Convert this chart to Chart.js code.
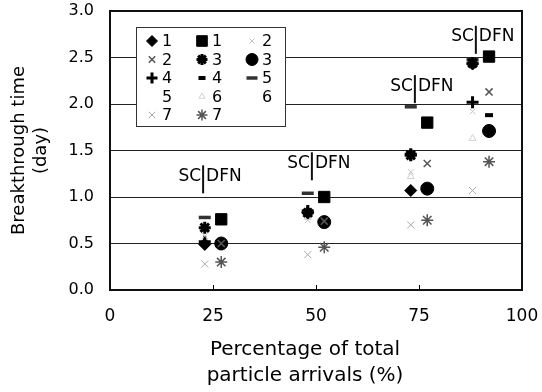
<!DOCTYPE html>
<html>
<head>
<meta charset="utf-8">
<script src="https://cdn.jsdelivr.net/npm/chart.js@4.4.0/dist/chart.umd.min.js"></script>
<style>
  html, body { margin: 0; padding: 0; background: #fff; }
  #wrap { width: 542px; height: 392px; }
</style>
</head>
<body>
<div id="wrap"><canvas id="chart" width="542" height="392"></canvas></div>
<script>
// x position (%) of the SC and DFN columns in each of the four groups
const scX = [23, 48, 73, 88];
const dfnX = [27, 52, 77, 92];

// breakthrough time (day), one value per group
const sc1 = [0.49, 0.83, 1.07, 2.43];
const dfn1 = [0.76, 1.00, 1.80, 2.51];
const sc2 = [0.58, 0.75, 1.27, 1.92];
const dfn2 = [0.50, 0.74, 1.36, 2.13];
const sc3 = [0.67, 0.83, 1.45, 2.44];
const dfn3 = [0.50, 0.73, 1.09, 1.71];
const sc4 = [0.52, 0.85, 1.46, 2.02];
const dfn4 = [0.77, 1.01, 1.81, 1.88];
const sc5 = [0.78, 1.04, 1.97, 2.48];
const dfn5 = [0.76, 1.00, 1.80, 2.50];
const sc6 = [0.55, 0.78, 1.22, 1.63];
const dfn6 = [0.76, 1.00, 1.80, 2.50];
const sc7 = [0.28, 0.38, 0.70, 1.07];
const dfn7 = [0.30, 0.46, 0.75, 1.38];

const seriesValues = [sc1, dfn1, sc2, dfn2, sc3, dfn3, sc4, dfn4, sc5, dfn5, sc6, dfn6, sc7, dfn7];
const seriesLabels = ['1', '1', '2', '2', '3', '3', '4', '4', '5', '5', '6', '6', '7', '7'];

const xTicks = [0, 25, 50, 75, 100];
const yTicks = [0, 0.5, 1.0, 1.5, 2.0, 2.5, 3.0];

// "SC|DFN" divider marks above each group (data units)
const dividerX = [22.6, 49.0, 74.0, 88.8];
const dividerY = [1.19, 1.33, 2.16, 2.69];

const FONT = 'DejaVu Sans';

// marker look for each series, same order as seriesValues
const markerStyles = [
  { pointStyle: 'rectRot', radius: 6, bg: '#000', border: '#000', bw: 1 },
  { pointStyle: 'rect', radius: 8, bg: '#000', border: '#000', bw: 1 },
  { pointStyle: 'crossRot', radius: 4, bg: 'transparent', border: '#c4c4c4', bw: 1 },
  { pointStyle: 'crossRot', radius: 5, bg: 'transparent', border: '#555', bw: 1.5 },
  { pointStyle: 'star', radius: 6, bg: 'transparent', border: '#000', bw: 3 },
  { pointStyle: 'circle', radius: 6.5, bg: '#000', border: '#000', bw: 1 },
  { pointStyle: 'cross', radius: 6, bg: 'transparent', border: '#000', bw: 3 },
  { pointStyle: 'line', radius: 4, bg: 'transparent', border: '#000', bw: 4 },
  { pointStyle: 'line', radius: 6, bg: 'transparent', border: '#333', bw: 3.5 },
  { pointStyle: 'circle', radius: 5, bg: 'transparent', border: 'transparent', bw: 0 },
  { pointStyle: 'triangle', radius: 4, bg: 'transparent', border: '#cfcfcf', bw: 1 },
  { pointStyle: 'circle', radius: 5, bg: 'transparent', border: 'transparent', bw: 0 },
  { pointStyle: 'crossRot', radius: 5, bg: 'transparent', border: '#a8a8a8', bw: 1 },
  { pointStyle: 'star', radius: 6, bg: 'transparent', border: '#555', bw: 1.5 }
];

const datasets = seriesValues.map((vals, i) => {
  const xs = i % 2 === 0 ? scX : dfnX;
  const st = markerStyles[i];
  return {
    label: seriesLabels[i],
    data: vals.map((v, j) => ({ x: xs[j], y: v })),
    pointStyle: st.pointStyle,
    pointRadius: st.radius,
    pointBackgroundColor: st.bg,
    pointBorderColor: st.border,
    pointBorderWidth: st.bw,
    showLine: false
  };
});

// frame, legend box and SC|DFN labels
const extrasPlugin = {
  id: 'extras',
  afterDatasetsDraw(chart) {
    const ctx = chart.ctx;
    const area = chart.chartArea;
    const xs = chart.scales.x;
    const ys = chart.scales.y;
    ctx.save();

    // frame round the plot
    ctx.strokeStyle = '#111';
    ctx.lineWidth = 2;
    ctx.strokeRect(area.left, area.top, area.right - area.left, area.bottom - area.top);

    // SC | DFN markers
    ctx.fillStyle = '#000';
    ctx.font = '17px "' + FONT + '"';
    ctx.textBaseline = 'middle';
    dividerX.forEach((dx, i) => {
      const px = xs.getPixelForValue(dx);
      const py = ys.getPixelForValue(dividerY[i]);
      ctx.beginPath();
      ctx.lineWidth = 2;
      ctx.moveTo(px, py - 14);
      ctx.lineTo(px, py + 14);
      ctx.stroke();
      ctx.textAlign = 'right';
      ctx.fillText('SC', px - 2, py - 3);
      ctx.textAlign = 'left';
      ctx.fillText('DFN', px + 3, py - 3);
    });

    // legend, three columns, row by row
    ctx.fillStyle = '#fff';
    ctx.fillRect(136, 27, 149, 99);
    ctx.strokeStyle = '#333';
    ctx.lineWidth = 1;
    ctx.strokeRect(136.5, 27.5, 149, 99);
    const colX = [152, 202, 252];
    const rowY = [41, 59.5, 78, 96.5, 115];
    seriesLabels.forEach((lab, i) => {
      const cx = colX[i % 3];
      const cy = rowY[Math.floor(i / 3)];
      const st = markerStyles[i];
      if (st.bw > 0 || st.bg !== 'transparent') {
        ctx.fillStyle = st.bg;
        ctx.strokeStyle = st.border;
        ctx.lineWidth = st.bw;
        Chart.helpers.drawPoint(ctx, { pointStyle: st.pointStyle, radius: st.radius - 0.5, rotation: 0, borderWidth: st.bw }, cx, cy);
      }
      ctx.fillStyle = '#000';
      ctx.font = '16px "' + FONT + '"';
      ctx.textAlign = 'left';
      ctx.textBaseline = 'middle';
      ctx.fillText(lab, cx + 10, cy + 1);
    });

    // x axis title
    ctx.fillStyle = '#000';
    ctx.font = '20px "' + FONT + '"';
    ctx.textAlign = 'center';
    ctx.textBaseline = 'middle';
    ctx.fillText('Percentage of total', 305, 350);
    ctx.fillText('particle arrivals (%)', 305, 376);
    ctx.restore();
  }
};

new Chart(document.getElementById('chart'), {
  type: 'scatter',
  data: { datasets: datasets },
  options: {
    responsive: false,
    animation: false,
    events: [],
    layout: { padding: { left: 0, right: 20, top: 11, bottom: 0 } },
    plugins: {
      legend: { display: false },
      tooltip: { enabled: false }
    },
    scales: {
      x: {
        type: 'linear',
        min: 0,
        max: 100,
        afterBuildTicks: axis => { axis.ticks = xTicks.map(v => ({ value: v })); },
        afterFit: scale => {
          scale.height = 102;
          scale.paddingLeft = 0;
          scale.paddingRight = 0;
        },
        ticks: {
          color: '#000',
          font: { family: FONT, size: 17 },
          padding: 21,
          maxRotation: 0
        },
        grid: { drawOnChartArea: false, drawTicks: true, tickLength: -5, color: '#000', lineWidth: 1 },
        border: { display: true, color: '#111', width: 2 }
      },
      y: {
        min: 0,
        max: 3,
        afterBuildTicks: axis => { axis.ticks = yTicks.map(v => ({ value: v })); },
        afterFit: scale => {
          scale.width = 110;
          scale.paddingTop = 0;
          scale.paddingBottom = 0;
        },
        ticks: {
          color: '#000',
          font: { family: FONT, size: 16 },
          padding: 16,
          callback: v => Number(v).toFixed(1)
        },
        grid: { drawTicks: false, color: '#222', lineWidth: 1 },
        border: { display: true, color: '#111', width: 2 },
        title: {
          display: true,
          text: ['Breakthrough time', '(day)'],
          color: '#000',
          font: { family: FONT, size: 18, lineHeight: 1.2 },
          padding: { top: 9, bottom: 0 }
        }
      }
    }
  },
  plugins: [extrasPlugin]
});
</script>
</body>
</html>
